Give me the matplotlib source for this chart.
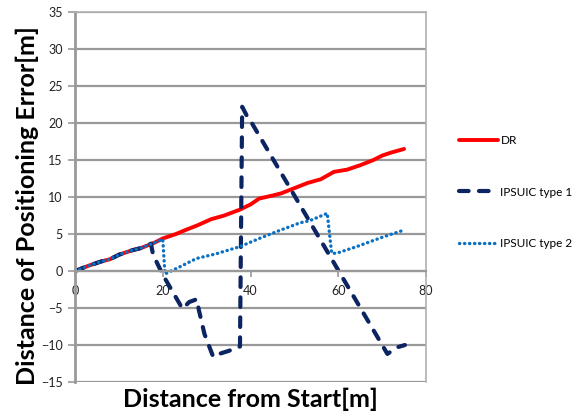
import matplotlib.pyplot as plt

plt.rcParams['font.family'] = ['Lato', 'DejaVu Sans']

# data
dr_x = [0, 3, 6, 8, 10, 13, 15, 18, 20, 23, 25, 28, 31, 34, 37.6, 40, 42, 45, 47, 50, 53, 56, 59, 62, 65, 68, 70, 72, 75]
dr_y = [0, 0.7, 1.3, 1.6, 2.2, 2.8, 3.1, 3.8, 4.4, 5.0, 5.5, 6.2, 7.0, 7.5, 8.3, 9.0, 9.8, 10.2, 10.5, 11.2, 11.9, 12.4, 13.4, 13.7, 14.3, 15.0, 15.6, 16.0, 16.5]

t1_x = [0, 3, 6, 8, 10, 13, 15, 17.3, 17.8, 20, 24.5, 26, 27.8, 28.2, 29.5, 31.5, 32.3, 35, 37.6, 38.1, 39.5, 40.3, 71.2, 73.5, 75.2]
t1_y = [0, 0.7, 1.3, 1.6, 2.2, 2.8, 3.1, 3.7, 2.2, -0.5, -5.1, -4.2, -3.8, -5.2, -8.5, -11.6, -11.3, -10.8, -10.2, 22.2, 20.6, 20, -11.2, -10.3, -10.0]

t2_x = [0, 3, 6, 8, 10, 13, 15, 18, 20, 20.5, 24, 27.7, 32, 37.6, 42, 46.7, 49, 51.2, 53.5, 57.5, 58.5, 59.6, 64.2, 70.2, 74.8]
t2_y = [0, 0.7, 1.3, 1.6, 2.2, 2.8, 3.1, 3.8, 4.3, -0.4, 0.6, 1.7, 2.3, 3.3, 4.4, 5.5, 6.0, 6.5, 6.8, 7.8, 2.4, 2.4, 3.3, 4.6, 5.5]

labels = ['DR', 'IPSUIC type 1', 'IPSUIC type 2']
x_ticks = [0, 20, 40, 60, 80]
y_ticks = [-15, -10, -5, 0, 5, 10, 15, 20, 25, 30, 35]

fig = plt.figure(figsize=(5.78, 4.16), dpi=100)
ax = fig.add_axes([0.1298, 0.0817, 0.6072, 0.8893])

grid_col = '#999999'
for yv in y_ticks:
    ax.axhline(yv, color=grid_col, lw=1.6, zorder=0)

ax.plot(dr_x, dr_y, color='#ff0000', lw=2.8, label=labels[0], solid_capstyle='round')
ax.plot(t1_x, t1_y, color='#0c2461', lw=3.0, label=labels[1],
        dashes=(2.3, 2.5), dash_capstyle='round')
ax.plot(t2_x, t2_y, color='#0a70c4', lw=2.4, label=labels[2],
        dashes=(0.1, 1.4), dash_capstyle='round')

ax.set_xlim(0, 80)
ax.set_ylim(-15, 35)
ax.set_xticks(x_ticks)
ax.set_yticks(y_ticks)

ax.spines['bottom'].set_position(('data', 0))
ax.spines['bottom'].set_color(grid_col)
ax.spines['bottom'].set_linewidth(1.6)
ax.spines['left'].set_color(grid_col)
ax.spines['left'].set_linewidth(2.0)
ax.spines['top'].set_color('#b0b0b0')
ax.spines['right'].set_color('#b0b0b0')
ax.spines['top'].set_linewidth(1.2)
ax.spines['right'].set_linewidth(1.2)

ax.tick_params(axis='x', direction='out', length=4, width=1.2, color=grid_col,
               labelsize=9, pad=6, labelcolor='#222222')
ax.tick_params(axis='y', direction='out', length=5, width=1.2, color=grid_col,
               labelsize=9, pad=4, labelcolor='#222222')

fig.text(0.434, 0.012, 'Distance from Start[m]', ha='center', va='bottom',
         fontsize=18, fontweight='bold')
fig.text(0.027, 0.505, 'Distance of Positioning Error[m]', ha='left', va='center',
         rotation=90, fontsize=18, fontweight='bold')

fig.legend(loc='upper left', bbox_to_anchor=(0.775, 0.70), frameon=False,
           fontsize=8.5, handlelength=3.3, handletextpad=0.25, labelspacing=3.4)

fig.savefig('out.png', dpi=100)
